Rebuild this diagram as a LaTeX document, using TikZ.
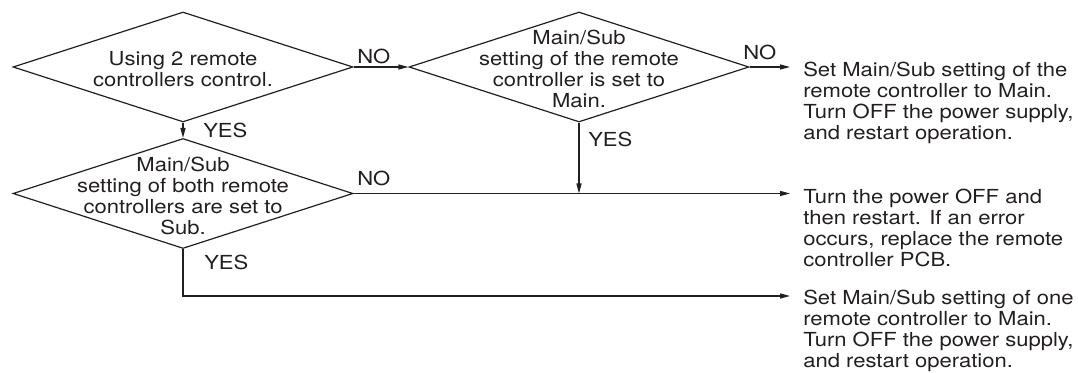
\documentclass[tikz,border=0pt]{standalone}
\usepackage{fontspec}
\setmainfont{TeX Gyre Heros}[FakeStretch=1.14]
\usetikzlibrary{arrows.meta,shapes.geometric}
\definecolor{inkgray}{RGB}{35,31,32}

\begin{document}
\begin{tikzpicture}[x=0.75pt,y=-0.75pt,
  font=\fontsize{14.5}{15.75}\selectfont,
  decision/.style={diamond,draw=inkgray,line width=.9pt,inner sep=0pt,
                   minimum width=255pt,minimum height=82.5pt},
  qtext/.style={align=center,inner sep=0pt,text=inkgray},
  action/.style={align=left,anchor=base west,inner sep=0pt,text=inkgray},
  lbl/.style={anchor=base west,inner sep=0pt,text=inkgray},
  arr/.style={-{Triangle[length=7.5pt,width=3.8pt]},draw=inkgray,line width=.9pt}
]
\useasboundingbox (0,0) rectangle (1078,373);
% decisions
\node[decision] (q1) at (183,67) {};
\node[decision] (q2) at (183,193.5) {};
\node[decision] (q3) at (579,67) {};
\node[qtext] (t1) at (183,69) {Using 2 remote\\controllers control.};
\node[qtext] (t2) at (183,196) {Main/Sub\\setting of both remote\\controllers are set to\\Sub.};
\node[qtext] (t3) at (579,69) {Main/Sub\\setting of the remote\\controller is set to\\Main.};
% results (base = last line)
\coordinate (e1) at (790,67);
\coordinate (e2) at (790,193.5);
\coordinate (e3) at (790,296);
\node[action] (a1) at (803,140) {Set Main/Sub setting of the\\remote controller to Main.\\Turn OFF the power supply,\\and restart operation.};
\node[action] (a2) at (803,267) {Turn the power OFF and\\then restart. If an error\\occurs, replace the remote\\controller PCB.};
\node[action] (a3) at (803,368) {Set Main/Sub setting of one\\remote controller to Main.\\Turn OFF the power supply,\\and restart operation.};
% connectors
\draw[arr] (q1.east) -- (q3.west);
\draw[arr] (q3.east) -- (e1);
\draw[arr] (q1.south) -- (q2.north);
\draw[arr] (q2.east) -- (e2);
\draw[arr] (q3.south) -- (q3.south |- q2.east);
\draw[arr] (q2.south) |- (e3);
% branch labels
\node[lbl] at (357,64) {NO};
\node[lbl] at (743,60) {NO};
\node[lbl] at (357,186) {NO};
\node[lbl] at (203,138) {YES};
\node[lbl] at (588,147) {YES};
\node[lbl] at (204,270) {YES};
\end{tikzpicture}
\end{document}
